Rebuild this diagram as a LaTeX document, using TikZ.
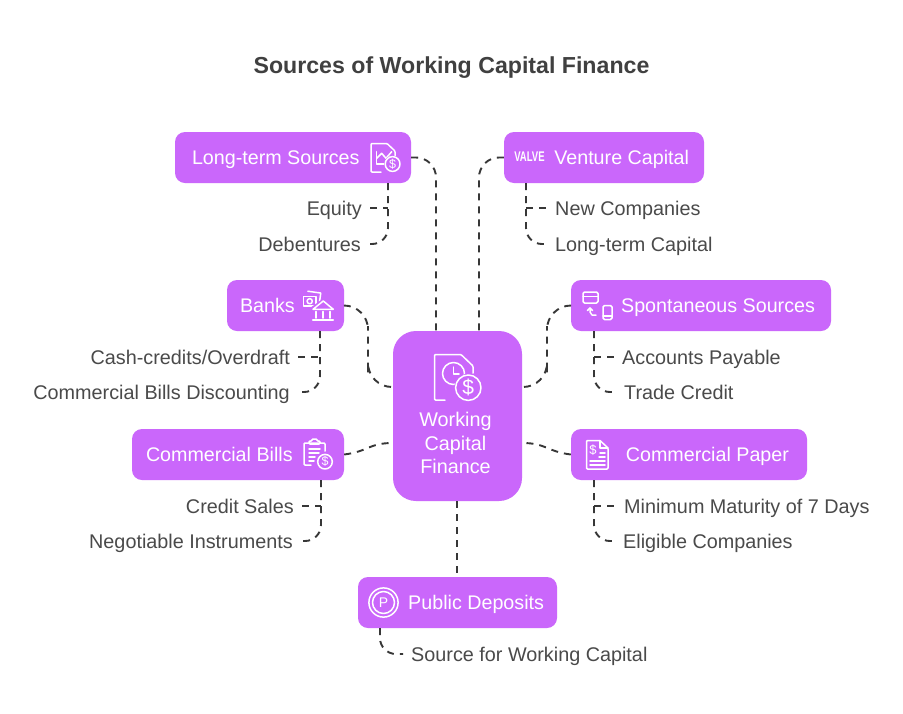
\documentclass[tikz,border=0pt]{standalone}
\usepackage{fontspec}
\usetikzlibrary{calc}
\setmainfont{Liberation Sans}
\definecolor{pur}{RGB}{202,103,251}
\definecolor{inkd}{RGB}{64,64,64}
\definecolor{inkl}{RGB}{74,74,74}
\definecolor{lnk}{RGB}{55,55,55}
\tikzset{
 boxbase/.style={fill=pur,draw=none,rounded corners=10pt,text=white,font=\fontsize{19.7}{24}\selectfont,minimum height=51pt,text height=14pt,text depth=0pt,inner ysep=0pt},
 boxl/.style 2 args={boxbase,align=flush left,minimum width=#1 pt,text width=#1 pt-2*#2 pt,inner xsep=#2 pt},
 boxr/.style 2 args={boxbase,align=flush right,minimum width=#1 pt,text width=#1 pt-2*#2 pt,inner xsep=#2 pt},
 leaf/.style={text=inkl,font=\fontsize{19.8}{24}\selectfont,inner xsep=8pt,inner ysep=0pt,text height=14pt,text depth=0pt},
 link/.style={draw=lnk,line width=1.9pt,dash pattern=on 7pt off 6pt},
 ico/.style={draw=white,line width=1.5pt,line join=round,line cap=round},
 dollar/.style={text=white,inner sep=0pt,font=\fontsize{#1}{#1}\selectfont}
}
\begin{document}
\begin{tikzpicture}[x=1pt,y=-1pt]
\useasboundingbox (0,0) rectangle (903,713);
\fill[white] (0,0) rectangle (903,713);
\node[text=inkd,inner sep=0pt,font=\bfseries\fontsize{23.15}{28}\selectfont] (title) at (451.5,67.5) {Sources of Working Capital Finance};

% boxes
\node[fill=pur,rounded corners=23pt,minimum width=129pt,minimum height=170pt,inner sep=0pt] (wc) at (457.5,416) {};
\node[text=white,align=center,inner sep=0pt,font=\fontsize{19.8}{23.6}\selectfont] (wct) at (455.5,443) {Working\\Capital\\Finance};
\node[boxl={236}{17}] (lt) at (293,157.5) {Long-term Sources};
\node[boxr={200}{15}] (vc) at (604,157.5) {Venture Capital};
\node[boxl={117}{13}] (bk) at (285.5,305.5) {Banks};
\node[boxr={260}{16}] (sp) at (701,305.5) {Spontaneous Sources};
\node[boxl={212}{14}] (cb) at (238,454.5) {Commercial Bills};
\node[boxr={236}{18}] (cp) at (689,454.5) {Commercial Paper};
\node[boxr={199}{13}] (pd) at (457.5,602.5) {Public Deposits};

% leaves
\node[leaf,anchor=east] (eq) at (370,208) {Equity};
\node[leaf,anchor=east] (db) at (369,244) {Debentures};
\node[leaf,anchor=west] (nc) at (547,208) {New Companies};
\node[leaf,anchor=west] (lc) at (547,244) {Long-term Capital};
\node[leaf,anchor=east] (cc) at (298,357) {Cash-credits/Overdraft};
\node[leaf,anchor=east] (bd) at (298,392) {Commercial Bills Discounting};
\node[leaf,anchor=west] (ap) at (614,357) {Accounts Payable};
\node[leaf,anchor=west] (tc) at (616,392) {Trade Credit};
\node[leaf,anchor=east] (cs) at (302,506) {Credit Sales};
\node[leaf,anchor=east] (ni) at (301,541) {Negotiable Instruments};
\node[leaf,anchor=west] (mm) at (616,506) {Minimum Maturity of 7 Days};
\node[leaf,anchor=west] (ec) at (615,541) {Eligible Companies};
\node[leaf,anchor=west] (sw) at (403,654) {Source for Working Capital};

% named connector ends
\coordinate (wca) at ($(wc.north)+(-21.5,0)$);
\coordinate (wcb) at ($(wc.north)+(21.5,0)$);
\coordinate (wcc) at ($(wc.west)+(0,-29)$);
\coordinate (wcd) at ($(wc.east)+(0,-29)$);
\coordinate (wce) at ($(wc.west)+(0,27)$);
\coordinate (wcf) at ($(wc.east)+(0,27)$);
\coordinate (wcs) at ($(wc.south)+(-.5,0)$);
\coordinate (ltx) at (388,183);
\coordinate (vcx) at (526,183);
\coordinate (bkx) at (320,331);
\coordinate (spx) at (594,331);
\coordinate (cbx) at (321,480);
\coordinate (cpx) at (594,480);
\coordinate (pdx) at (380,628);
\coordinate (bkm) at (368,350);
\coordinate (spm) at (547,350);

% main connectors
\draw[link,rounded corners=20pt] (lt.east) -| (wca);
\draw[link,rounded corners=20pt] (vc.west) -| (wcb);
\draw[link,rounded corners=24pt] (bk.east) -| (bkm) |- (wcc);
\draw[link,rounded corners=24pt] (sp.west) -| (spm) |- (wcd);
\draw[link] (cb.east) .. controls ($(cb.east)+(24,-3)$) and ($(wce)+(-24,0)$) .. (wce);
\draw[link] (cp.west) .. controls ($(cp.west)+(-24,-3)$) and ($(wcf)+(24,0)$) .. (wcf);
\draw[link] (wcs) -- (wcs |- pd.north);

% leaf connectors
\draw[link] (eq.east) -- (ltx |- eq);
\draw[link,rounded corners=16pt] (ltx) |- (db.east);
\draw[link] (vcx |- nc) -- (nc.west);
\draw[link,rounded corners=16pt] (vcx) |- (lc.west);
\draw[link] (cc.east) -- (bkx |- cc);
\draw[link,rounded corners=16pt] (bkx) |- (bd.east);
\draw[link] (spx |- ap) -- (ap.west);
\draw[link,rounded corners=16pt] (spx) |- (tc.west);
\draw[link] (cs.east) -- (cbx |- cs);
\draw[link,rounded corners=16pt] (cbx) |- (ni.east);
\draw[link] (cpx |- mm) -- (mm.west);
\draw[link,rounded corners=16pt] (cpx) |- (ec.west);
\draw[link,rounded corners=16pt] (pdx) |- (sw.west);

% icon: central
\draw[ico,rounded corners=1pt] (445,400) -- (434.5,400) -- (434.5,354.5) -- (461,354.5) -- (473,366) -- (473,373);
\draw[ico] (453.5,373.5) circle (11);
\draw[ico] (453.5,367) -- (453.5,374) -- (459,374);
\fill[pur] (468.3,387.7) circle (14);
\draw[ico] (468.3,387.7) circle (12.7);
\node[dollar=21] at (468.3,387.7) {\$};

% icon: long-term
\draw[ico,rounded corners=1pt] (381,172) -- (371,172) -- (371,143.5) -- (387,143.5) -- (395,151) -- (395,156);
\draw[ico] (376.7,151.7) -- (376.7,164) -- (384,164);
\draw[ico] (376.7,158.3) -- (381.7,153.3) -- (386,158.3) -- (391.7,151.7);
\fill[pur] (392.6,164) circle (8.5);
\draw[ico] (392.6,164) circle (7.4);
\node[dollar=12.5] at (392.6,164) {\$};

% icon: valve
\node[text=white,inner sep=0pt,xscale=.68,transform shape,font=\bfseries\fontsize{14}{14}\selectfont] (vv) at (529.5,157) {VALVE};

% icon: banks
\draw[ico,rotate around={-8:(313,298)}] (307,292) -- (320,292) -- (320,301);
\draw[ico] (303.5,296.5) rectangle (316,306);
\draw[ico] (309.7,301.2) circle (2.6);
\fill[pur] (323.3,298.5) -- (310,308) -- (310,322) -- (336,322) -- (336,311) -- cycle;
\draw[ico] (313,309.3) -- (323.3,301) -- (333.3,309.3) -- cycle;
\draw[ico] (316,311.5) -- (316,318) (323,311.5) -- (323,318) (330,311.5) -- (330,318);
\draw[ico] (312.7,320) -- (333.3,320);

% icon: spontaneous
\draw[ico,rounded corners=1.5pt] (583,292) rectangle (598,303);
\draw[ico] (583,296.5) -- (598,296.5);
\draw[ico,rounded corners=1.5pt] (603,305.5) rectangle (612,319.5);
\draw[ico] (603,316) -- (612,316);
\draw[ico] (596,315) -- (592,315) -- (590,312) -- (590,308);
\draw[ico] (587.5,310.5) -- (590,308) -- (592.5,310.5);

% icon: commercial bills
\draw[ico,rounded corners=1pt] (311,465) -- (304,465) -- (304,443) -- (325,443) -- (325,451);
\draw[ico,rounded corners=1pt] (309,441) -- (309,444) -- (320,444) -- (320,441) -- (317,441) -- (317,439) -- (312,439) -- (312,441) -- cycle;
\draw[ico] (309,449) -- (320,449) (309,453) -- (319,453) (309,457) -- (315,457) (309,461) -- (314,461);
\fill[pur] (325,461.7) circle (8.5);
\draw[ico] (325,461.7) circle (7.3);
\node[dollar=12.5] at (325,461.7) {\$};

% icon: commercial paper
\draw[ico,rounded corners=1pt] (586.5,440.5) -- (600,440.5) -- (608,448) -- (608,469) -- (586.5,469) -- cycle;
\draw[ico] (600,440.5) -- (600,448) -- (608,448);
\node[dollar=13] at (593,450) {\$};
\draw[ico] (600,453) -- (605,453) (599,457) -- (605,457) (590,461) -- (605,461) (590,465) -- (605,465);

% icon: public deposits
\draw[ico] (383.5,602.5) circle (14.6);
\draw[ico] (383.5,602.5) circle (11);
\node[text=white,inner sep=0pt,font=\fontsize{14}{14}\selectfont] (pp) at (383.5,602.5) {P};
\end{tikzpicture}
\end{document}
